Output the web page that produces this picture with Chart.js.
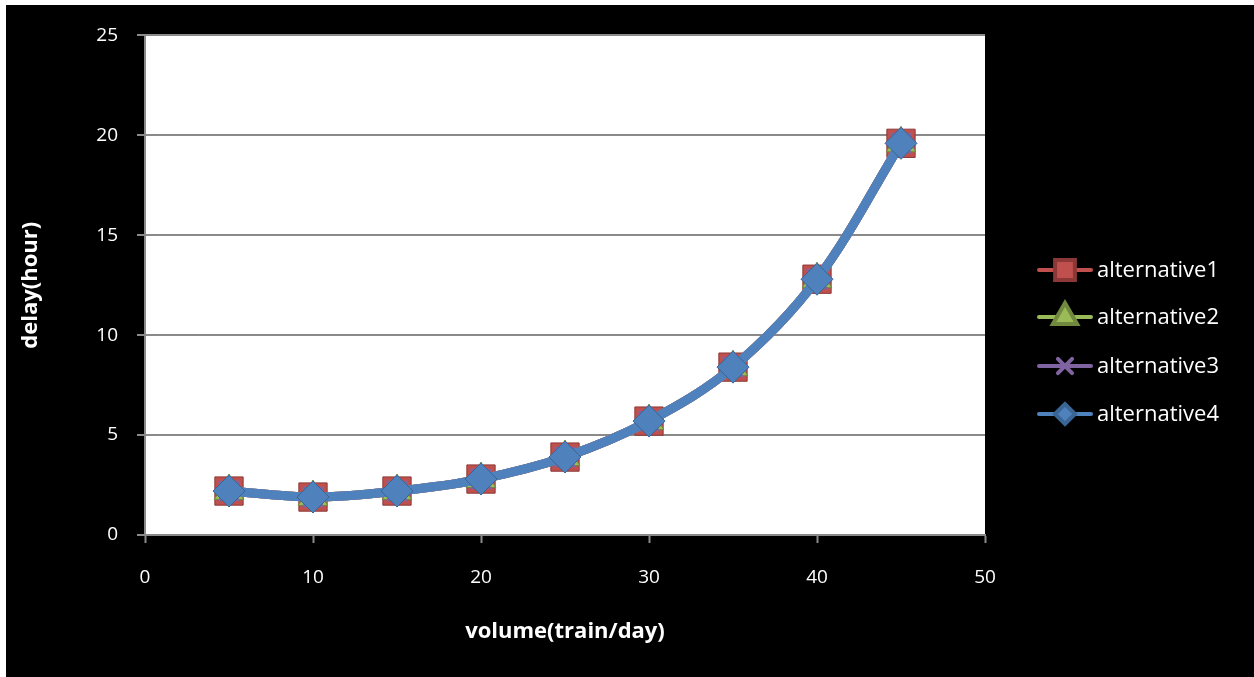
<!DOCTYPE html>
<html>
<head>
<meta charset="utf-8">
<script src="https://cdn.jsdelivr.net/npm/chart.js@4.4.1/dist/chart.umd.min.js"></script>
<style>
  body { margin: 0; background: #fff; }
  #wrap { position: absolute; left: 6px; top: 5px; background: #000; }
</style>
</head>
<body>
<div id="wrap"><canvas id="canvas1" width="1248" height="672"></canvas></div>
<script>
// values
var volume = [5, 10, 15, 20, 25, 30, 35, 40, 45]
var alt1 = [2.2, 1.9, 2.2, 2.8, 3.9, 5.7, 8.4, 12.8, 19.6]
var alt2 = [2.2, 1.9, 2.2, 2.8, 3.9, 5.7, 8.4, 12.8, 19.6]
var alt3 = [2.2, 1.9, 2.2, 2.8, 3.9, 5.7, 8.4, 12.8, 19.6]
var alt4 = [2.2, 1.9, 2.2, 2.8, 3.9, 5.7, 8.4, 12.8, 19.6]
var names = ['alternative1', 'alternative2', 'alternative3', 'alternative4']

var fontFam = '"Open Sans", Lato, sans-serif'
var gridGray = '#8a8a8a'

function pts(arr) {
    return arr.map(function (v, i) { return { x: volume[i], y: v } })
}

var series = [
    { label: names[0], data: pts(alt1), color: '#C0504D', dark: '#8c3836', style: 'rect', r: 20, lr: 14, order: 3 },
    { label: names[1], data: pts(alt2), color: '#9BBB59', dark: '#71893f', style: 'triangle', r: 17, lr: 14, order: 2 },
    { label: names[2], data: pts(alt3), color: '#8064A2', dark: '#8064A2', style: 'crossRot', r: 14, lr: 10, order: 1 },
    { label: names[3], data: pts(alt4), color: '#4F81BD', dark: '#3a6595', style: 'rectRot', r: 16, lr: 10, order: 0 }
]

var plotBg = {
    id: 'plotBg',
    beforeDraw: function (chart) {
        var a = chart.chartArea
        chart.ctx.save()
        chart.ctx.fillStyle = '#fff'
        chart.ctx.fillRect(a.left, a.top, a.right - a.left, a.bottom - a.top)
        chart.ctx.restore()
    }
}

// legend with line + marker like the original
var sideLegend = {
    id: 'sideLegend',
    afterDraw: function (chart) {
        var ctx = chart.ctx
        var rows = [265, 312, 361, 409]
        ctx.save()
        series.forEach(function (s, i) {
            var y = rows[i]
            ctx.strokeStyle = s.color
            ctx.lineWidth = 4
            ctx.lineCap = 'round'
            ctx.beginPath()
            ctx.moveTo(1033, y)
            ctx.lineTo(1085, y)
            ctx.stroke()
            ctx.fillStyle = s.color
            ctx.strokeStyle = s.style == 'crossRot' ? s.color : s.dark
            Chart.helpers.drawPoint(ctx, { pointStyle: s.style, radius: s.lr, rotation: 0, borderWidth: s.style == 'crossRot' ? 2 : 1 }, 1059, y)
            ctx.fillStyle = '#fff'
            ctx.font = '22px ' + fontFam
            ctx.textBaseline = 'middle'
            ctx.textAlign = 'left'
            ctx.fillText(s.label, 1091, y + 1)
        })
        ctx.restore()
    }
}

var ctx = document.getElementById('canvas1').getContext('2d')
var chart1 = new Chart(ctx, {
    type: 'line',
    data: {
        datasets: series.map(function (s) {
            return {
                label: s.label,
                data: s.data,
                order: s.order,
                borderColor: s.color,
                backgroundColor: s.color,
                borderWidth: 9,
                tension: 0.35,
                pointStyle: s.style,
                pointRadius: s.r,
                pointHoverRadius: s.r,
                pointBackgroundColor: s.color,
                pointBorderColor: s.style == 'crossRot' ? s.color : s.dark,
                pointBorderWidth: s.style == 'crossRot' ? 3 : 1
            }
        })
    },
    options: {
        responsive: false,
        animation: false,
        layout: { padding: { left: 0, top: 30, right: 269, bottom: 0 } },
        plugins: {
            legend: { display: false },
            tooltip: { enabled: false }
        },
        scales: {
            x: {
                type: 'linear',
                min: 0,
                max: 50,
                ticks: { stepSize: 10, color: '#fff', padding: 23, font: { family: fontFam, size: 19 } },
                grid: { drawOnChartArea: false, drawTicks: true, tickLength: 8, tickColor: gridGray, tickWidth: 2 },
                border: { color: gridGray, width: 2 },
                title: { display: true, text: 'volume(train/day)', color: '#fff', padding: { top: 0, bottom: 32 }, font: { family: fontFam, size: 22, weight: 'bold' } },
                afterFit: function (s) { s.height = 142 }
            },
            y: {
                min: 0,
                max: 25,
                ticks: { stepSize: 5, color: '#fff', padding: 19, font: { family: fontFam, size: 19 } },
                grid: { color: gridGray, lineWidth: 2, tickLength: 8, tickColor: gridGray },
                border: { color: gridGray, width: 2 },
                title: { display: true, text: 'delay(hour)', color: '#fff', padding: { top: 12, bottom: 0 }, font: { family: fontFam, size: 22, weight: 'bold' } },
                afterFit: function (s) { s.width = 139 }
            }
        }
    },
    plugins: [plotBg, sideLegend]
})
</script>
</body>
</html>
